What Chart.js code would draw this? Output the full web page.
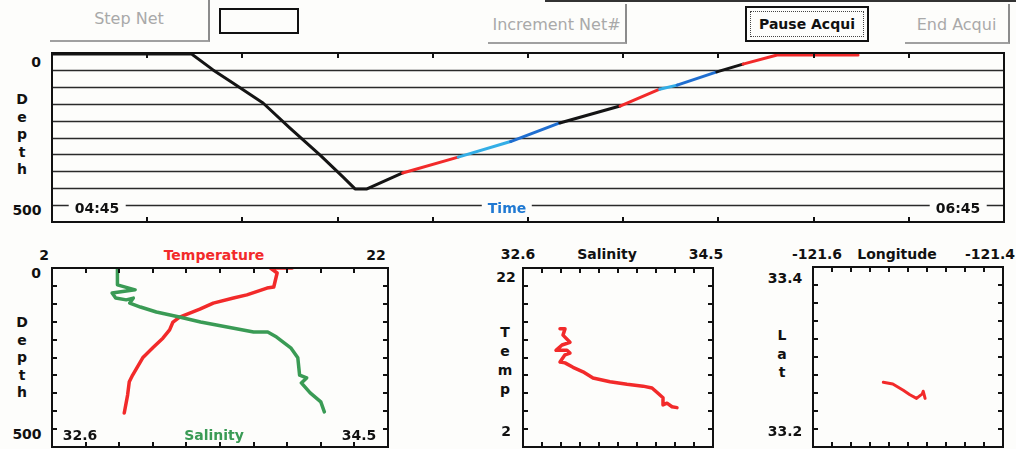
<!DOCTYPE html>
<html>
<head>
<meta charset="utf-8">
<script src="https://cdn.jsdelivr.net/npm/chart.js@4.4.1/dist/chart.umd.min.js"></script>
<style>
  html,body{margin:0;padding:0;background:#fdfdfb;overflow:hidden}
  #wrap{position:relative;width:1016px;height:449px;font-family:"DejaVu Sans",sans-serif}
  canvas{position:absolute}
  .lbl{position:absolute;font-weight:bold;font-size:14px;line-height:14px;white-space:nowrap;transform:translate(-50%,-50%);color:#111}
  .bg{background:#fdfdfb;padding:0 6px}
  .stack{position:absolute;font-weight:bold;font-size:14px;text-align:center;width:20px;color:#111}
  .btn{position:absolute;box-sizing:border-box;display:flex;align-items:center;justify-content:center;font-size:16px;color:#a9a9a9}
  .dis{border-right:2px solid #8c8c8c;border-bottom:2px solid #a0a0a0}
</style>
</head>
<body>
<div id="wrap">
  <div style="position:absolute;left:545px;top:0;width:471px;height:2px;background:#333"></div>
  <div class="btn dis" style="left:50px;top:0;width:160px;height:42px;padding-bottom:4px">Step Net</div>
  <div style="position:absolute;left:219px;top:8px;width:80px;height:26px;box-sizing:border-box;border:2px solid #111"></div>
  <div class="btn dis" style="left:488px;top:4px;width:139px;height:40px;padding-top:2px">Increment Net#</div>
  <div class="btn" style="left:745px;top:6px;width:124px;height:36px;border:2px solid #111;color:#111;font-weight:bold;font-size:14px">
    <div style="position:absolute;left:3px;top:3px;right:3px;bottom:3px;border:1px dotted #444"></div>Pause Acqui</div>
  <div class="btn dis" style="left:905px;top:4px;width:105px;height:40px;padding-top:2px">End Acqui</div>

  <canvas id="towChart" width="960" height="177" style="left:48px;top:49px"></canvas>
  <canvas id="profileChart" width="344" height="187" style="left:48px;top:264px"></canvas>
  <canvas id="tsChart" width="198" height="187" style="left:519px;top:264px"></canvas>
  <canvas id="posChart" width="198" height="188" style="left:809px;top:263px"></canvas>

  <div id="labels"></div>
</div>
<script>
// depth of the net vs time (minutes after start), colour per segment
const towMinutes = [0, 17.6, 20.3, 22.8, 26.6, 30.0, 33.8, 36.7, 38.2, 39.7, 44.2, 51.2, 57.8, 64.0, 71.6, 76.6, 78.8, 83.8, 87.1, 91.4, 101.6]
const towDepth   = [3, 3, 50, 89, 148, 222, 302, 367, 402, 402, 355, 308, 262, 207, 157, 107, 95, 56, 33, 6, 6]
const towSegment = ['k','k','k','k','k','k','k','k','k','k','r','c','b','k','r','c','b','k','r','r']
const timeLabels = ['04:45', '06:45']
const towSpan = [0, 120]
const depthRange = [0, 500]

// temperature and salinity profiles vs depth
const tempRange = [2, 22]
const salRange = [32.6, 34.5]
const profTemp  = [16.3, 15.0, 15.4, 15.2, 14.8, 13.6, 12.8, 11.6, 10.8, 9.6, 9.2, 9.0, 8.6, 8.0, 7.4, 6.8, 6.6, 6.5, 6.3]
const profTempD = [0, 0, 14, 53, 56, 75, 84, 98, 115, 137, 151, 173, 196, 223, 251, 299, 318, 355, 405]
const profSal   = [32.97, 32.97, 33.07, 32.94, 32.96, 33.02, 33.06, 33.04, 33.10, 33.19, 33.32, 33.44, 33.59, 33.74, 33.82, 33.87, 33.95, 33.99, 34.00, 34.04, 34.01, 34.06, 34.12, 34.14]
const profSalD  = [0, 47, 61, 70, 84, 89, 84, 98, 109, 123, 137, 151, 165, 179, 179, 193, 223, 251, 299, 307, 321, 349, 374, 402]

// T-S diagram
const tsSal  = [32.97, 33.02, 33.00, 33.07, 32.99, 32.93, 33.04, 33.07, 33.02, 32.97, 33.02, 33.10, 33.20, 33.30, 33.47, 33.64, 33.80, 33.89, 33.95, 34.00, 34.00, 34.04, 34.09, 34.14]
const tsTemp = [15.2, 15.2, 14.5, 13.7, 13.4, 12.8, 12.8, 12.5, 12.3, 11.5, 11.4, 10.9, 10.4, 9.7, 9.3, 9.0, 8.8, 8.6, 8.0, 7.5, 6.7, 6.9, 6.5, 6.4]

// ship track
const lonRange = [-121.6, -121.4]
const latRange = [33.2, 33.4]
const trackLon = [-121.526, -121.516, -121.505, -121.498, -121.491, -121.485, -121.484, -121.482]
const trackLat = [33.272, 33.270, 33.263, 33.258, 33.254, 33.259, 33.262, 33.254]

const divisions = 10
const colors = {k:'#141414', r:'#f22a2a', c:'#33aee6', b:'#1f6ed0', g:'#3a9b55'}

const xy = (xs, ys) => xs.map((x,i)=>({x, y: ys[i]}))

// box, inner tick marks and optional horizontal grid
const frame = {
  id: 'frame',
  beforeDatasetsDraw(chart, args, o){
    if(!o.gridY) return
    const {ctx, chartArea: a} = chart
    const ys = chart.scales.y
    ctx.save()
    ctx.strokeStyle = '#2a2a2a'
    ctx.lineWidth = 1.5
    for(const t of ys.ticks.slice(1,-1)){
      const py = Math.round(ys.getPixelForValue(t.value))+0.5
      ctx.beginPath(); ctx.moveTo(a.left, py); ctx.lineTo(a.right, py); ctx.stroke()
    }
    ctx.restore()
  },
  afterDraw(chart, args, o){
    const {ctx, chartArea: a} = chart
    const len = o.len || 5
    ctx.save()
    ctx.strokeStyle = '#111'
    ctx.lineWidth = 2
    const xs = chart.scales[o.xAxis || 'x']
    for(const t of xs.ticks.slice(1,-1)){
      const px = Math.round(xs.getPixelForValue(t.value))
      ctx.beginPath()
      ctx.moveTo(px, a.top); ctx.lineTo(px, a.top+len)
      ctx.moveTo(px, a.bottom); ctx.lineTo(px, a.bottom-len)
      ctx.stroke()
    }
    if(!o.gridY){
      const ys = chart.scales.y
      for(const t of ys.ticks.slice(1,-1)){
        const py = Math.round(ys.getPixelForValue(t.value))
        ctx.beginPath()
        ctx.moveTo(a.left, py); ctx.lineTo(a.left+len, py)
        ctx.moveTo(a.right, py); ctx.lineTo(a.right-len, py)
        ctx.stroke()
      }
    }
    ctx.strokeRect(a.left, a.top, a.width, a.height)
    ctx.restore()
  }
}
Chart.register(frame)

// evenly divided axis (the instrument always shows ten divisions)
const lin = (min, max, extra={}) => ({
  type:'linear', display:false, min, max,
  ticks:{count: divisions+1, display:false, autoSkip:false},
  ...extra
})
const base = (pad, frameOpts, scales) => ({
  responsive:false, animation:false, devicePixelRatio:1,
  layout:{padding:pad},
  plugins:{legend:{display:false}, tooltip:{enabled:false}, frame:frameOpts},
  elements:{point:{radius:0}, line:{tension:0, borderJoinStyle:'round', borderCapStyle:'round'}},
  scales
})

new Chart(document.getElementById('towChart'), {
  type:'scatter',
  data:{datasets:[{
    data: xy(towMinutes, towDepth), showLine:true, borderWidth:3, borderColor:colors.k,
    segment:{borderColor: c => colors[towSegment[c.p0DataIndex]]}
  }]},
  options: base(4, {gridY:true}, {
    x: lin(towSpan[0], towSpan[1]),
    y: lin(depthRange[0], depthRange[1], {reverse:true})
  })
})

new Chart(document.getElementById('profileChart'), {
  type:'scatter',
  data:{datasets:[
    {data: xy(profSal, profSalD), xAxisID:'xS', showLine:true, borderWidth:3.5, borderColor:colors.g},
    {data: xy(profTemp, profTempD), xAxisID:'x', showLine:true, borderWidth:3.5, borderColor:colors.r}
  ]},
  options: base(4, {}, {
    x: lin(tempRange[0], tempRange[1]),
    xS: lin(salRange[0], salRange[1], {position:'bottom'}),
    y: lin(depthRange[0], depthRange[1], {reverse:true})
  })
})

new Chart(document.getElementById('tsChart'), {
  type:'scatter',
  data:{datasets:[{data: xy(tsSal, tsTemp), showLine:true, borderWidth:3.5, borderColor:colors.r}]},
  options: base(4, {}, {
    x: lin(salRange[0], salRange[1]),
    y: lin(tempRange[0], tempRange[1])
  })
})

new Chart(document.getElementById('posChart'), {
  type:'scatter',
  data:{datasets:[{data: xy(trackLon, trackLat), showLine:true, borderWidth:3, borderColor:colors.r}]},
  options: base(4, {}, {
    x: lin(lonRange[0], lonRange[1]),
    y: lin(latRange[0], latRange[1])
  })
})

// axis captions
const holder = document.getElementById('labels')
function label(text, x, y, cls='', color){
  const d = document.createElement('div')
  d.className = 'lbl ' + cls
  d.style.left = x+'px'; d.style.top = y+'px'
  if(color) d.style.color = color
  d.textContent = text
  holder.appendChild(d)
}
function stack(text, x, y, step){
  const d = document.createElement('div')
  d.className = 'stack'
  d.style.left = (x-10)+'px'; d.style.top = y+'px'; d.style.lineHeight = step+'px'
  d.innerHTML = text.split('').join('<br>')
  holder.appendChild(d)
}
const f = v => String(v)

label(f(depthRange[0]), 36, 62)
label(f(depthRange[1]), 27, 210)
stack('Depth', 22, 91, 17.5)
label(timeLabels[0], 97, 208, 'bg')
label('Time', 507, 208, 'bg', '#2079d2')
label(timeLabels[1], 958, 208, 'bg')

label(f(tempRange[0]), 44, 255)
label('Temperature', 214, 255, '', '#f22a2a')
label(f(tempRange[1]), 376, 255)
label(f(depthRange[0]), 36, 273)
label(f(depthRange[1]), 27, 434)
stack('Depth', 22, 314, 17.5)
label(f(salRange[0]), 80, 435)
label('Salinity', 214, 435, '', '#3a9b55')
label(f(salRange[1]), 359, 435)

label(f(salRange[0]), 518, 254)
label('Salinity', 607, 254)
label(f(salRange[1]), 706, 254)
label(f(tempRange[1]), 506, 277)
label(f(tempRange[0]), 506, 431)
stack('Temp', 505, 323, 19)

label(f(lonRange[0]), 817, 254)
label('Longitude', 897, 254)
label(f(lonRange[1]), 990, 254)
label(f(latRange[1]), 785, 278)
label(f(latRange[0]), 785, 431)
stack('Lat', 782, 326, 18.5)
</script>
</body>
</html>
